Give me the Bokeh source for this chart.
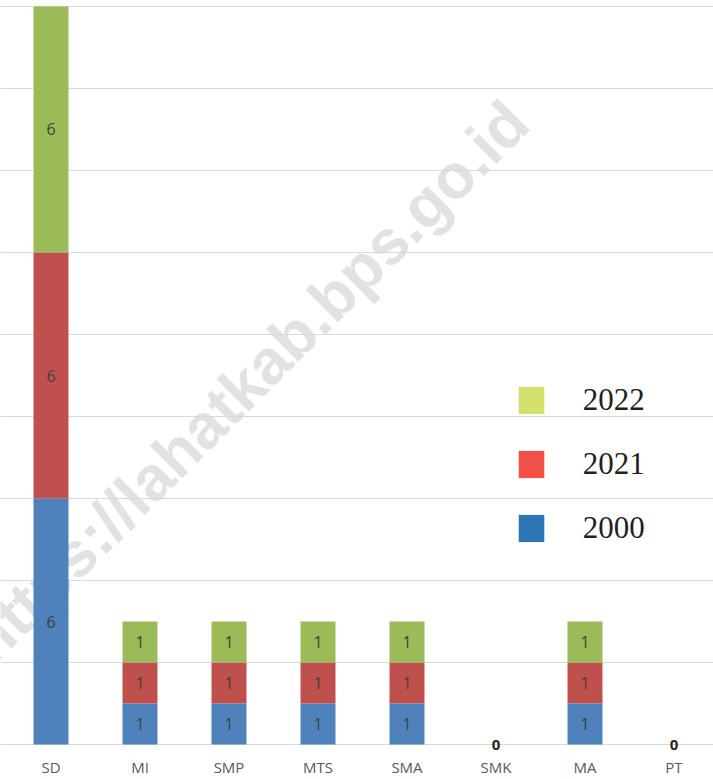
from bokeh.plotting import figure
from bokeh.models import Range1d, FixedTicker, ColumnDataSource, Legend, LegendItem, Label
from bokeh.core.properties import value
from bokeh.embed import file_html
from bokeh.resources import INLINE

categories = ["SD", "MI", "SMP", "MTS", "SMA", "SMK", "MA", "PT"]
y2000 = [6, 1, 1, 1, 1, 0, 1, 0]
y2021 = [6, 1, 1, 1, 1, 0, 1, 0]
y2022 = [6, 1, 1, 1, 1, 0, 1, 0]
series_names = ["2000", "2021", "2022"]
bar_colors = ["#4f81bd", "#c0504d", "#9bbb59"]
legend_colors = ["#2e75b6", "#f05045", "#d4e06b"]
y_ticks = [0, 2, 4, 6, 8, 10, 12, 14, 16, 18]
watermark = "https://lahatkab.bps.go.id"

xs = list(range(len(categories)))
series = [y2000, y2021, y2022]

src = ColumnDataSource(dict(x=xs, s2000=y2000, s2021=y2021, s2022=y2022))

p = figure(width=713, height=779, output_backend="svg", toolbar_location=None,
           x_range=Range1d(-0.5674, 7.4438), y_range=Range1d(-0.146, 18.146),
           min_border_left=0, min_border_right=0, min_border_top=0, min_border_bottom=27)
p.outline_line_color = None
p.background_fill_color = "white"
p.border_fill_color = "white"

# watermark behind everything
wm = Label(x=247, y=369, x_units="screen", y_units="screen", text=watermark,
           angle=45, angle_units="deg", text_align="center", text_baseline="middle",
           text_font="Liberation Sans", text_font_style="bold", text_font_size="63px",
           text_color="#e2e2e2", level="image")
p.add_layout(wm)

p.yaxis.visible = False
p.ygrid.ticker = FixedTicker(ticks=y_ticks)
p.ygrid.grid_line_color = "#d9d9d9"
p.ygrid.grid_line_width = 1
p.xgrid.visible = False

p.xaxis.ticker = FixedTicker(ticks=xs)
p.xaxis.major_label_overrides = {i: c for i, c in enumerate(categories)}
p.xaxis.axis_line_color = None
p.xaxis.major_tick_line_color = None
p.xaxis.minor_tick_line_color = None
p.xaxis.major_tick_out = 0
p.xaxis.major_tick_in = 0
p.xaxis.minor_tick_out = 0
p.xaxis.major_label_standoff = 6
p.xaxis.major_label_text_font = "Open Sans"
p.xaxis.major_label_text_font_size = "15px"
p.xaxis.major_label_text_color = "#595959"

p.vbar_stack(["s2000", "s2021", "s2022"], x="x", width=0.393, color=bar_colors,
             line_color=None, source=src)

# segment labels
lx, ly, lt = [], [], []
zx, zy, zt = [], [], []
for i in xs:
    bottom = 0
    total = sum(s[i] for s in series)
    for s in series:
        v = s[i]
        if v > 0:
            lx.append(i)
            ly.append(bottom + v / 2)
            lt.append(str(v))
        bottom += v
    if total == 0:
        zx.append(i)
        zy.append(0)
        zt.append("0")

p.text(x=lx, y=ly, text=lt, text_align="center", text_baseline="middle",
       text_font=value("Open Sans"), text_font_size="16px", text_color="#404040")
p.text(x=zx, y=zy, text=zt, text_align="center", text_baseline="middle",
       text_font=value("Open Sans"), text_font_style="bold", text_font_size="15px",
       text_color="#262626")

# legend (separate colours as in the reference)
nan = float("nan")
items = []
for name, col in zip(series_names, legend_colors):
    r = p.quad(left=[nan], right=[nan], top=[nan], bottom=[nan], fill_color=col, line_color=None)
    items.append(LegendItem(label=name, renderers=[r]))
items = items[::-1]
leg = Legend(items=items, location=(514.8, 204), padding=0, margin=0,
             border_line_color=None, background_fill_alpha=0,
             glyph_width=32, glyph_height=34, label_height=34, spacing=28,
             label_standoff=36, label_text_font="Liberation Serif",
             label_text_font_size="31px", label_text_color="#231f20")
p.add_layout(leg)

open("out.html", "w").write(file_html(p, INLINE))
